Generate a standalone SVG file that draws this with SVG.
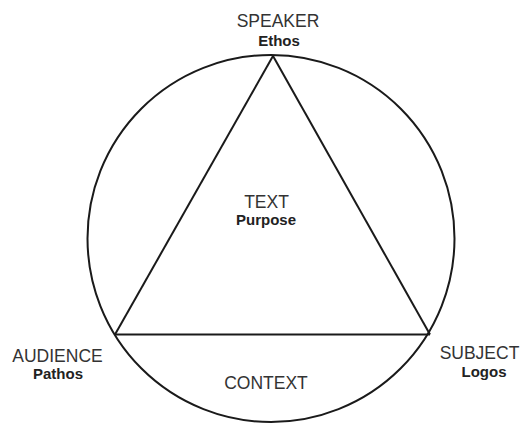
<svg xmlns="http://www.w3.org/2000/svg" width="522" height="423" viewBox="0 0 522 423">
  <style>
    .ln { fill: none; stroke: #1a1a1a; stroke-width: 2; stroke-linejoin: round; }
    .t { font-family: "Liberation Sans", Arial, sans-serif; font-size: 17.5px; fill: #333; text-anchor: middle; }
    .b { font-family: "Liberation Sans", Arial, sans-serif; font-size: 15px; font-weight: bold; fill: #222; text-anchor: middle; }
  </style>
  <rect width="522" height="423" fill="#fff"/>
  <g id="context-circle">
    <circle class="ln" cx="271" cy="238.5" r="183.5"/>
  </g>
  <g id="connectors">
    <line class="ln" x1="273" y1="56" x2="115" y2="334.5"/>
    <line class="ln" x1="273" y1="56" x2="430" y2="334.5"/>
    <line class="ln" x1="115" y1="334.5" x2="430" y2="334.5"/>
  </g>
  <g id="speaker">
    <text class="t" x="278" y="27">SPEAKER</text>
    <text class="b" x="279" y="45.5">Ethos</text>
  </g>
  <g id="text">
    <text class="t" x="266.5" y="208">TEXT</text>
    <text class="b" x="266" y="225">Purpose</text>
  </g>
  <g id="audience">
    <text class="t" x="57.5" y="361.5">AUDIENCE</text>
    <text class="b" x="58" y="379">Pathos</text>
  </g>
  <g id="subject">
    <text class="t" x="479.5" y="359">SUBJECT</text>
    <text class="b" x="484" y="376.5">Logos</text>
  </g>
  <g id="context">
    <text class="t" x="266" y="389">CONTEXT</text>
  </g>
</svg>
